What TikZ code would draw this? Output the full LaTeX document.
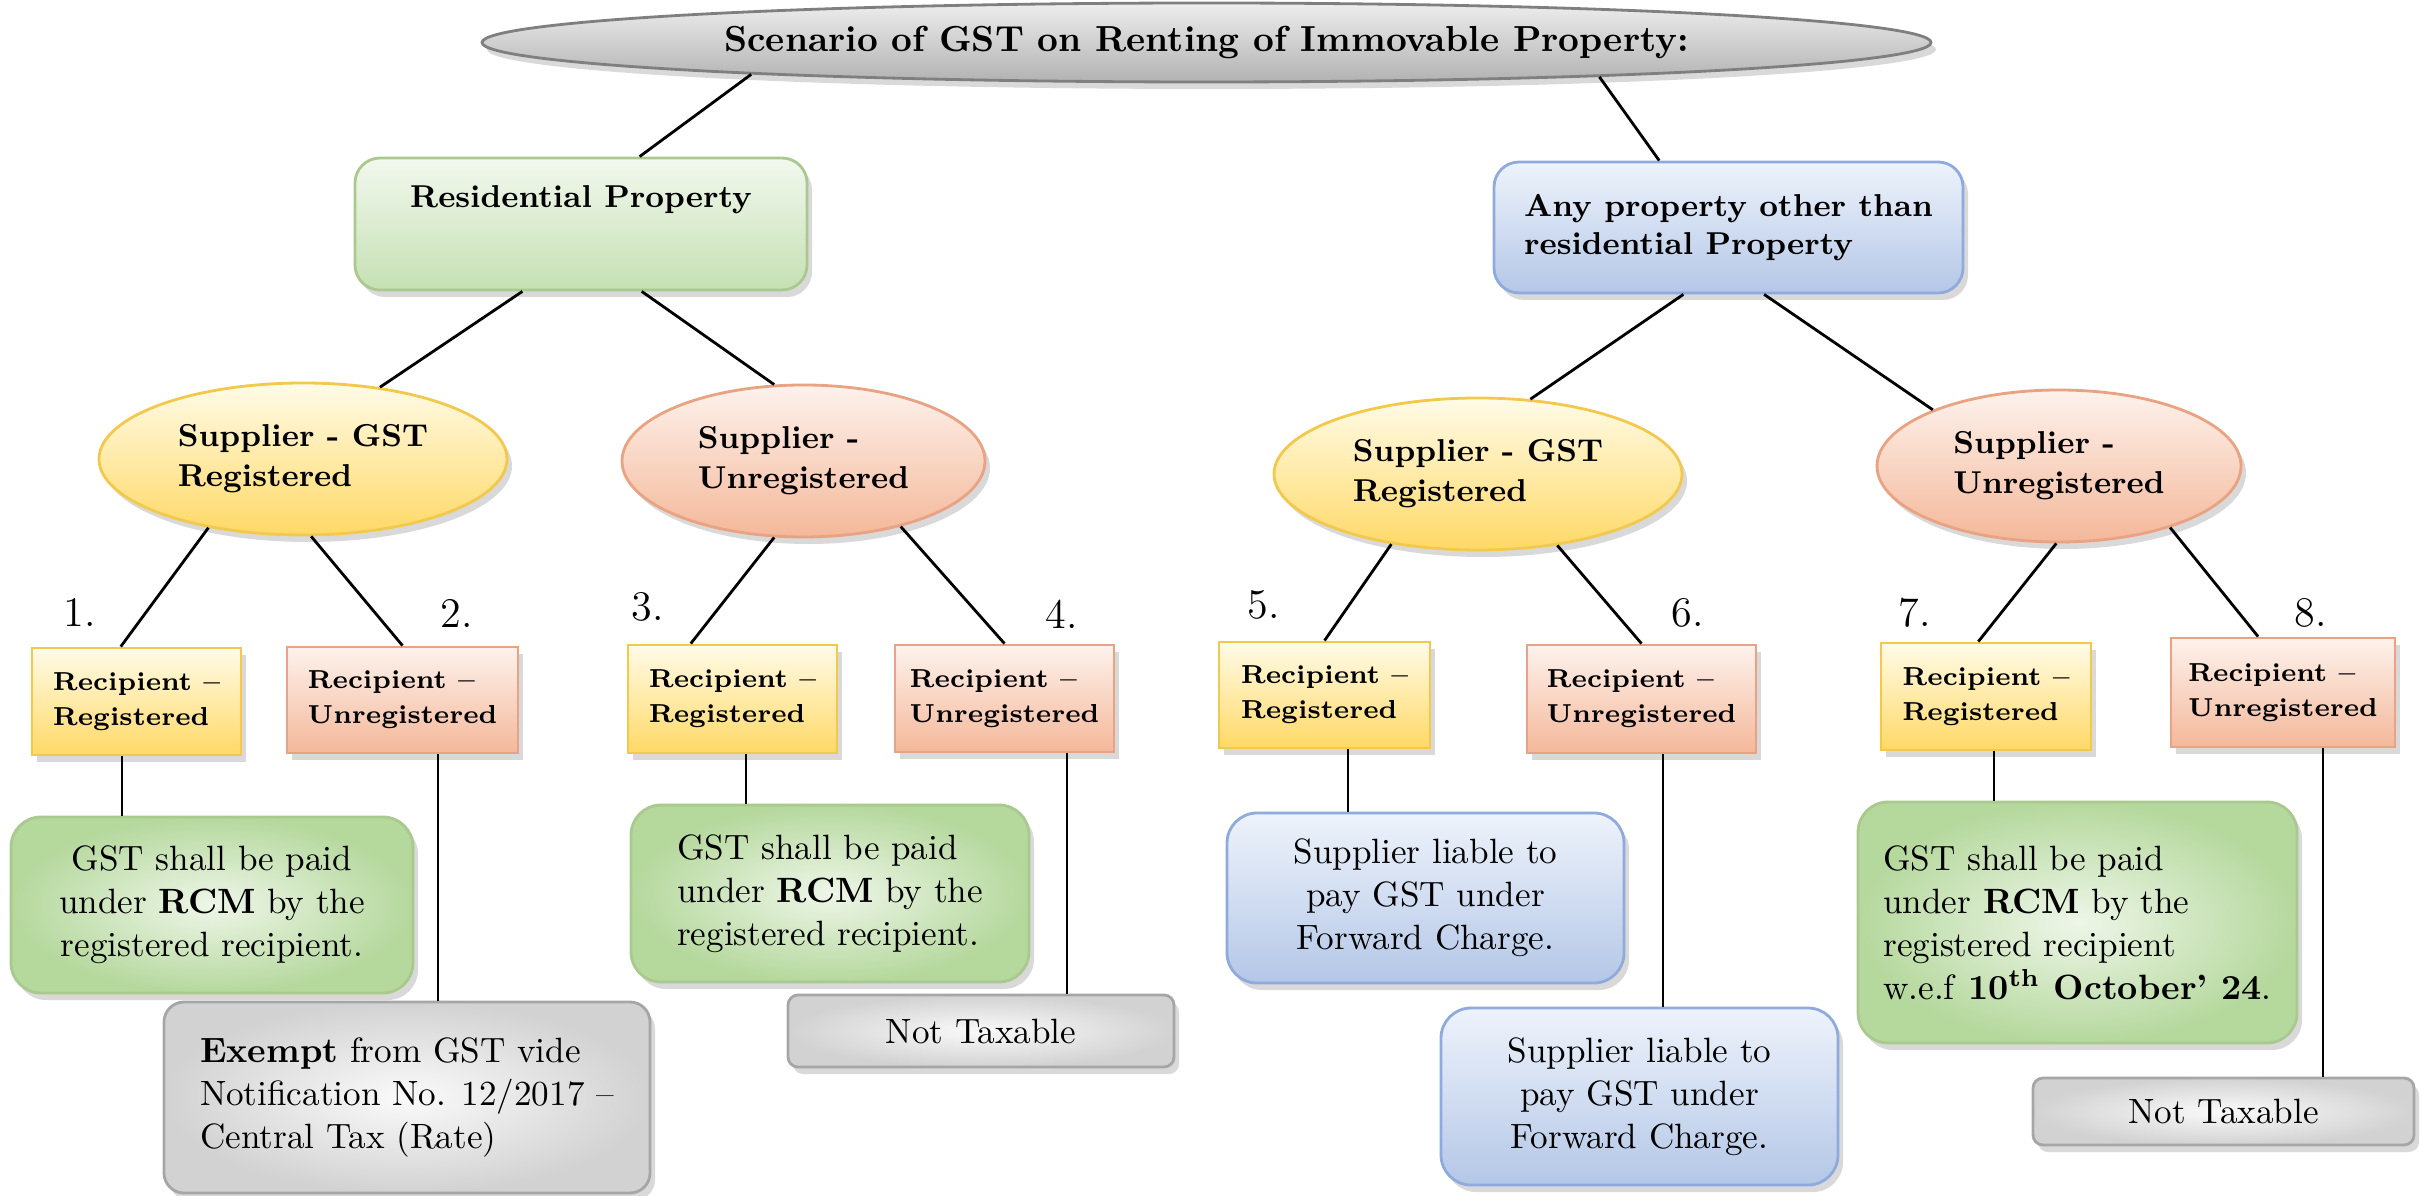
\documentclass[tikz,border=0pt]{standalone}
\usepackage{xcolor}
\usepackage{tikz}
\usetikzlibrary{shapes.geometric,shadows}

\definecolor{titlehi}{HTML}{EDEDED}
\definecolor{titlelo}{HTML}{B2B2B2}
\definecolor{titleedge}{HTML}{7F7F7F}
\definecolor{grnhi}{HTML}{F2F8EE}
\definecolor{grnlo}{HTML}{C5E0B3}
\definecolor{grnedge}{HTML}{A9C98F}
\definecolor{grnpale}{HTML}{EEF6E8}
\definecolor{grndeep}{HTML}{B5D89D}
\definecolor{bluhi}{HTML}{EEF3FB}
\definecolor{blulo}{HTML}{B4C7E7}
\definecolor{bluedge}{HTML}{8FAADC}
\definecolor{yelhi}{HTML}{FFFBE8}
\definecolor{yello}{HTML}{FFD966}
\definecolor{yeledge}{HTML}{F2C94C}
\definecolor{orahi}{HTML}{FDF2EC}
\definecolor{oralo}{HTML}{F4B89A}
\definecolor{oraedge}{HTML}{E9A282}
\definecolor{gryhi}{HTML}{FAFAFA}
\definecolor{grylo}{HTML}{D2D2D2}
\definecolor{gryedge}{HTML}{A6A6A6}

\begin{document}
\begin{tikzpicture}[line width=0.8pt,
  shad/.style={drop shadow={opacity=0.3,shadow xshift=0.5mm,shadow yshift=-0.7mm}},
  sz/.style 2 args={minimum width=#1cm,minimum height=#2cm},
  heading/.style={ellipse,draw=titleedge,top color=titlehi,bottom color=titlelo,shad,inner sep=0pt,
    font=\fontsize{10.3}{12}\selectfont\bfseries},
  propres/.style={rectangle,rounded corners=0.25cm,draw=grnedge,top color=grnhi,bottom color=grnlo,shad,
    font=\fontsize{9}{11}\selectfont\bfseries},
  propother/.style={rectangle,rounded corners=0.25cm,draw=bluedge,top color=bluhi,bottom color=blulo,shad,
    align=left,font=\fontsize{9}{11}\selectfont\bfseries},
  supreg/.style={ellipse,draw=yeledge,top color=yelhi,bottom color=yello,shad,inner sep=0pt,
    align=left,font=\fontsize{9}{11.3}\selectfont\bfseries},
  supunreg/.style={ellipse,draw=oraedge,top color=orahi,bottom color=oralo,shad,inner sep=0pt,
    align=left,font=\fontsize{9}{11.3}\selectfont\bfseries},
  recreg/.style={rectangle,draw=yeledge,top color=yelhi,bottom color=yello,shad,
    align=left,font=\fontsize{7.4}{10}\selectfont\bfseries},
  recunreg/.style={rectangle,draw=oraedge,top color=orahi,bottom color=oralo,shad,
    align=left,font=\fontsize{7.4}{10}\selectfont\bfseries},
  resgreen/.style={rectangle,rounded corners=0.3cm,draw=grnedge,inner color=grnpale,outer color=grndeep,shad,
    font=\fontsize{10}{12.2}\selectfont},
  resblue/.style={rectangle,rounded corners=0.3cm,draw=bluedge,top color=bluhi,bottom color=blulo,shad,
    align=center,font=\fontsize{10}{12.2}\selectfont},
  resgray/.style={rectangle,rounded corners=0.2cm,draw=gryedge,inner color=gryhi,outer color=grylo,shad,
    font=\fontsize{10}{12.2}\selectfont},
  num/.style={inner sep=0pt,font=\fontsize{12}{14}\selectfont}]

\useasboundingbox (0,0) rectangle (24.2,-11.96);

\node[heading,sz={14.49}{0.79}]    (title) at (12.065,-0.425) {Scenario of GST on Renting of Immovable Property:};

\node[propres,sz={4.52}{1.32},inner ysep=0.2cm,text height=0.3cm,text depth=0.62cm]
                                   (res)   at (5.81,-2.24)    {Residential Property};
\node[propother,sz={4.69}{1.31}]   (other) at (17.285,-2.275) {Any property other than\\residential Property};

\node[supreg,sz={4.08}{1.52}]      (sreg1)   at (3.03,-4.59)  {Supplier - GST\\Registered};
\node[supunreg,sz={3.63}{1.52}]    (sunreg1) at (8.035,-4.61) {Supplier -\\Unregistered};
\node[supreg,sz={4.08}{1.52}]      (sreg2)   at (14.78,-4.74) {Supplier - GST\\Registered};
\node[supunreg,sz={3.64}{1.52}]    (sunreg2) at (20.59,-4.66) {Supplier -\\Unregistered};

\node[recreg,sz={2.09}{1.07}]      (r1) at (1.365,-7.015)  {Recipient --\\Registered};
\node[recunreg,sz={2.31}{1.06}]    (r2) at (4.025,-7.00)   {Recipient --\\Unregistered};
\node[recreg,sz={2.09}{1.08}]      (r3) at (7.325,-6.99)   {Recipient --\\Registered};
\node[recunreg,sz={2.19}{1.07}]    (r4) at (10.045,-6.985) {Recipient --\\Unregistered};
\node[recreg,sz={2.11}{1.06}]      (r5) at (13.245,-6.95)  {Recipient --\\Registered};
\node[recunreg,sz={2.29}{1.08}]    (r6) at (16.415,-6.99)  {Recipient --\\Unregistered};
\node[recreg,sz={2.10}{1.07}]      (r7) at (19.86,-6.965)  {Recipient --\\Registered};
\node[recunreg,sz={2.24}{1.09}]    (r8) at (22.83,-6.925)  {Recipient --\\Unregistered};

\node[num] (n1) at (0.80,-6.12)  {1.};
\node[num] (n2) at (4.57,-6.13)  {2.};
\node[num] (n3) at (6.48,-6.07)  {3.};
\node[num] (n4) at (10.62,-6.14) {4.};
\node[num] (n5) at (12.64,-6.05) {5.};
\node[num] (n6) at (16.88,-6.13) {6.};
\node[num] (n7) at (19.15,-6.13) {7.};
\node[num] (n8) at (23.11,-6.13) {8.};

\node[resgreen,sz={4.02}{1.76},align=center] (o1) at (2.12,-9.05)
  {GST shall be paid\\under \textbf{RCM} by the\\registered recipient.};
\node[resgray,sz={4.86}{1.91},align=left]    (o2) at (4.07,-10.975)
  {\textbf{Exempt} from GST vide\\Notification No. 12/2017 --\\Central Tax (Rate)};
\node[resgreen,sz={3.98}{1.77},align=left]   (o3) at (8.30,-8.935)
  {GST shall be paid\\under \textbf{RCM} by the\\registered recipient.};
\node[resgray,sz={3.86}{0.72},rounded corners=0.1cm] (o4) at (9.81,-10.31) {Not Taxable};
\node[resblue,sz={3.97}{1.70}]               (o5) at (14.255,-8.98)
  {Supplier liable to\\pay GST under\\Forward Charge.};
\node[resblue,sz={3.97}{1.77}]               (o6) at (16.395,-10.965)
  {Supplier liable to\\pay GST under\\Forward Charge.};
\node[resgreen,sz={4.39}{2.41},align=left]   (o7) at (20.775,-9.225)
  {GST shall be paid\\under \textbf{RCM} by the\\registered recipient\\w.e.f \textbf{10\textsuperscript{th} October’ 24}.};
\node[resgray,sz={3.81}{0.67},rounded corners=0.1cm] (o8) at (22.235,-11.115) {Not Taxable};

\coordinate (d1) at ([xshift=-1.45mm]r1.south);
\coordinate (d2) at ([xshift=3.55mm]r2.south);
\coordinate (d3) at ([xshift=1.35mm]r3.south);
\coordinate (d4) at ([xshift=6.25mm]r4.south);
\coordinate (d5) at ([xshift=2.35mm]r5.south);
\coordinate (d6) at ([xshift=2.15mm]r6.south);
\coordinate (d7) at ([xshift=0.8mm]r7.south);
\coordinate (d8) at ([xshift=4mm]r8.south);

\path
    (title.184)  edge (res.49)
    (title.355)  edge (other.136)
    (res.229)    edge (sreg1.43)
    (res.312)    edge (sunreg1.111)
    (other.236)  edge (sreg2.55)
    (other.298)  edge (sunreg2.156);

\path
    (sreg1.216)   edge (r1.106)
    (sreg1.276)   edge (r2.north)
    (sunreg1.249) edge (r3.127)
    (sunreg1.326) edge (r4.north)
    (sreg2.219)   edge (r5.north)
    (sreg2.318)   edge (r6.north)
    (sunreg2.268) edge (r7.98)
    (sunreg2.331) edge (r8.114);

\path
    (d1) edge (d1 |- o1.north)
    (d2) edge (d2 |- o2.north)
    (d3) edge (d3 |- o3.north)
    (d4) edge (d4 |- o4.north)
    (d5) edge (d5 |- o5.north)
    (d6) edge (d6 |- o6.north)
    (d7) edge (d7 |- o7.north)
    (d8) edge (d8 |- o8.north);
\end{tikzpicture}
\end{document}
